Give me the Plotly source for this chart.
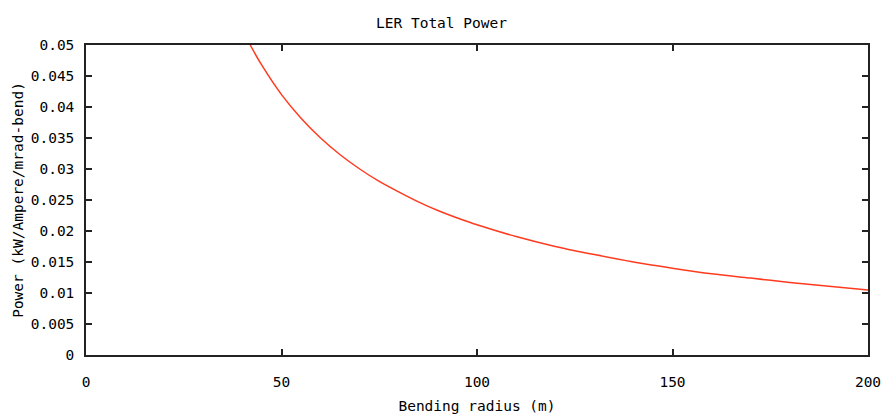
import plotly.graph_objects as go

radius = [42, 45, 50, 55, 60, 65, 70, 75, 80, 85, 90, 95, 100, 110, 120, 130, 140, 150, 160, 170, 180, 190, 200]
power = [0.050, 0.0467, 0.0420, 0.0382, 0.0350, 0.0323, 0.0300, 0.0280, 0.0263, 0.0247, 0.0233, 0.0221,
         0.0210, 0.0191, 0.0175, 0.0162, 0.0150, 0.0140, 0.0131, 0.0124, 0.0117, 0.0111, 0.0105]

x_ticks = [0, 50, 100, 150, 200]
y_ticks = [0, 0.005, 0.01, 0.015, 0.02, 0.025, 0.03, 0.035, 0.04, 0.045, 0.05]
y_labels = ["0", "0.005", "0.01", "0.015", "0.02", "0.025", "0.03", "0.035", "0.04", "0.045", "0.05"]

font = "DejaVu Sans Mono, Liberation Mono, monospace"
fs = 14.5

fig = go.Figure()
fig.add_trace(go.Scatter(x=radius, y=power, mode="lines", line=dict(color="#ff3b1f", width=1.5, shape="spline"),
                         showlegend=False))

axis_common = dict(showgrid=False, zeroline=False, showline=True, linecolor="#222222", linewidth=1.5,
                   mirror="ticks", ticks="inside", ticklen=6, tickwidth=1.5, tickcolor="#222222",
                   automargin=False,
                   tickfont=dict(family=font, size=fs, color="#000000"))

fig.update_layout(
    width=883, height=418,
    margin=dict(l=86, r=15, t=45, b=63),
    paper_bgcolor="white", plot_bgcolor="white",
    title=dict(text="LER Total Power", x=0.5, xanchor="center", y=0.945, yanchor="middle",
               font=dict(family=font, size=fs, color="#000000")),
    xaxis=dict(range=[0, 200], tickvals=x_ticks, ticktext=[str(v) for v in x_ticks], ticklabelstandoff=13,
               title=dict(text="Bending radius (m)", font=dict(family=font, size=fs, color="#000000"), standoff=12),
               **axis_common),
    yaxis=dict(range=[0, 0.05], tickvals=y_ticks, ticktext=y_labels, ticklabelstandoff=7,
               title=dict(text="Power (kW/Ampere/mrad-bend)", font=dict(family=font, size=fs, color="#000000"), standoff=4),
               **axis_common),
)

fig.write_html("out.html")
